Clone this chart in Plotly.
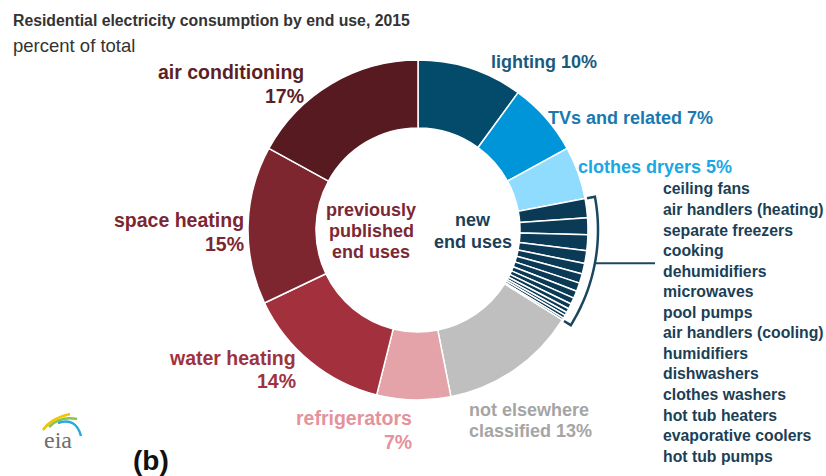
import math
import plotly.graph_objects as go

# Residential electricity consumption by end use, 2015 (percent of total)
main_before = ["lighting", "TVs and related", "clothes dryers"]
main_before_vals = [10, 7, 5]

new_uses = [
    "ceiling fans", "air handlers (heating)", "separate freezers", "cooking",
    "dehumidifiers", "microwaves", "pool pumps", "air handlers (cooling)",
    "humidifiers", "dishwashers", "clothes washers", "hot tub heaters",
    "evaporative coolers", "hot tub pumps",
]
new_vals = [1.8, 1.6, 1.5, 1.2, 1.0, 0.9, 0.8, 0.7, 0.6, 0.5, 0.4, 0.3, 0.3, 0.2]

main_after = ["not elsewhere classified", "refrigerators", "water heating",
              "space heating", "air conditioning"]
main_after_vals = [13, 7, 14, 15, 17]

W, H = 826, 476
CX, CY, R = 418, 230, 170
HOLE = 0.6

C_LIGHT = "#034a6b"
C_TV = "#0095d9"
C_DRY = "#8fdcff"
C_NEW = "#0a3a55"
C_NEC = "#bfbfbf"
C_REF = "#e3a3a9"
C_WAT = "#a2313d"
C_SPA = "#7d2630"
C_AC = "#561a20"

labels = main_before + new_uses + main_after
values = main_before_vals + new_vals + main_after_vals
colors = [C_LIGHT, C_TV, C_DRY] + [C_NEW] * len(new_uses) + [C_NEC, C_REF, C_WAT, C_SPA, C_AC]


def px(x):
    return x / W


def py(y):
    return 1 - y / H


fig = go.Figure(go.Pie(
    labels=labels, values=values, sort=False, direction="clockwise", rotation=0,
    hole=HOLE, textinfo="none", hoverinfo="label+value",
    marker=dict(colors=colors, line=dict(color="white", width=1.5)),
    domain=dict(x=[px(CX - R), px(CX + R)], y=[py(CY + R), py(CY - R)]),
    showlegend=False,
))

FONT = "Liberation Sans, Arial, sans-serif"
ann = []


def label(text, x, y, color, size=18, anchor="left", bold=True):
    ann.append(dict(
        text=f"<b>{text}</b>" if bold else text, x=px(x), y=py(y),
        xref="paper", yref="paper", xanchor=anchor, yanchor="middle",
        showarrow=False, font=dict(family=FONT, size=size, color=color),
    ))


# title block
label("Residential electricity consumption by end use, 2015", 11, 21, "#333333", size=15.8)
label("percent of total", 11, 45, "#333333", size=18.5, bold=False)

# slice labels (right side)
tot = sum(values)
label(f"lighting {main_before_vals[0]}%", 489, 62, "#1b5a80")
label(f"TVs and related {main_before_vals[1]}%", 546, 118, "#1a78b0")
label(f"clothes dryers {main_before_vals[2]}%", 576, 167, "#1aa7e6")
label("not elsewhere", 467, 410, "#a5a5a5")
label(f"classified {main_after_vals[0]}%", 467, 431, "#a5a5a5")

# slice labels (left side)
RS = 19.5
label("refrigerators", 414, 418, "#e4929b", size=RS, anchor="right")
label(f"{main_after_vals[1]}%", 414, 442, "#e4929b", size=RS, anchor="right")
label("water heating", 298, 358, "#a0323e", size=RS, anchor="right")
label(f"{main_after_vals[2]}%", 298, 381, "#a0323e", size=RS, anchor="right")
label("space heating", 246, 220, "#7d2631", size=RS, anchor="right")
label(f"{main_after_vals[3]}%", 246, 244, "#7d2631", size=RS, anchor="right")
label("air conditioning", 306, 72, "#5c1f27", size=RS, anchor="right")
label(f"{main_after_vals[4]}%", 306, 96, "#5c1f27", size=RS, anchor="right")

# centre captions
for i, t in enumerate(["previously", "published", "end uses"]):
    label(t, 371, 210 + 21 * i, "#7b2834", anchor="center")
for i, t in enumerate(["new", "end uses"]):
    label(t, 473, 220 + 22 * i, "#1b3f56", anchor="center")

# list of new end uses
for i, name in enumerate(new_uses):
    label(name, 661, 189 + 20.55 * i, "#1b3f56", size=15.8)

label("(b)", 131, 460, "#111111", size=28)

# eia logo text
ann.append(dict(text="eia", x=px(58), y=py(440), xref="paper", yref="paper",
                xanchor="center", yanchor="middle", showarrow=False,
                font=dict(family="Liberation Serif, serif", size=24, color="#6d6d6d")))

shapes = []

# bracket around the new end-use slices, following the pie geometry
start = sum(main_before_vals) / tot * 2 * math.pi
end = (sum(main_before_vals) + sum(new_vals)) / tot * 2 * math.pi
rb = R + 10
ri = R + 2


def pt(r, a):
    return px(CX + r * math.sin(a)), py(CY - r * math.cos(a))


n = 40
p0 = pt(ri, start)
path = f"M {p0[0]:.5f},{p0[1]:.5f}"
for k in range(n + 1):
    a = start + (end - start) * k / n
    q = pt(rb, a)
    path += f" L {q[0]:.5f},{q[1]:.5f}"
p1 = pt(ri, end)
path += f" L {p1[0]:.5f},{p1[1]:.5f}"
shapes.append(dict(type="path", path=path, xref="paper", yref="paper",
                   line=dict(color="#1b4660", width=2.5)))
mid = (start + end) / 2
m = pt(rb, mid)
shapes.append(dict(type="line", xref="paper", yref="paper", x0=m[0], y0=m[1],
                   x1=px(655), y1=m[1], line=dict(color="#1b4660", width=2)))

# eia logo swooshes
for col, (x0, y0, xc, yc, x1, y1) in [
    ("#f2c300", (43, 430, 51, 418, 70, 414)),
    ("#8cc63f", (49, 427, 60, 416, 77, 419)),
    ("#29a8e0", (58, 423, 76, 417, 81, 436)),
]:
    shapes.append(dict(
        type="path", xref="paper", yref="paper",
        path=f"M {px(x0)},{py(y0)} Q {px(xc)},{py(yc)} {px(x1)},{py(y1)}",
        line=dict(color=col, width=2.5)))

fig.update_layout(
    width=W, height=H, margin=dict(l=0, r=0, t=0, b=0),
    paper_bgcolor="white", plot_bgcolor="white",
    annotations=ann, shapes=shapes,
)

fig.write_html("out.html")
